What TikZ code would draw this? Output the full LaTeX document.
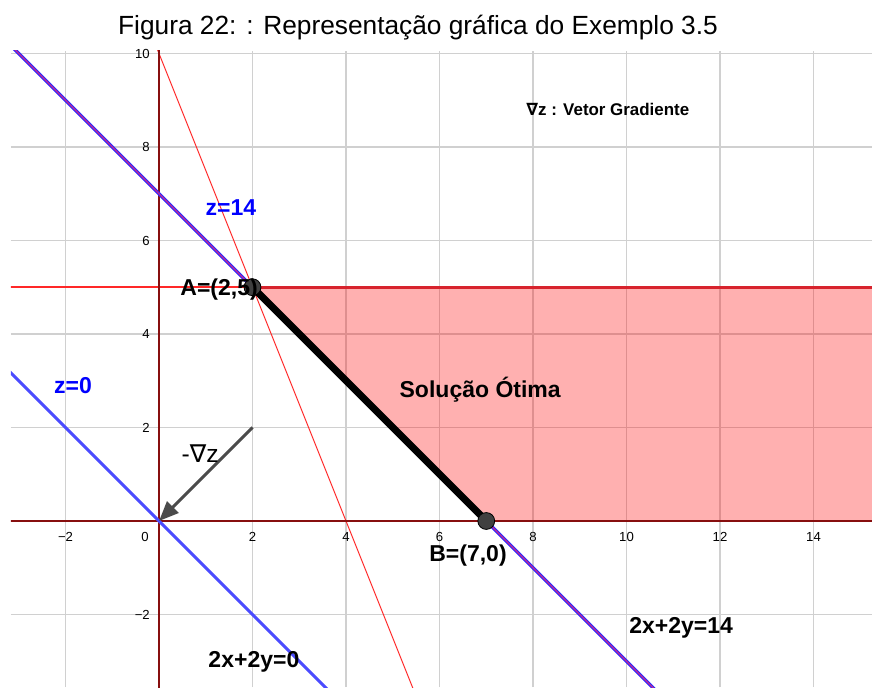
\documentclass[tikz,border=0pt]{standalone}
\usepackage{fontspec}
\setmainfont{Liberation Sans}
\newfontfamily\dejavu{DejaVu Sans}
\usetikzlibrary{arrows.meta}
\definecolor{gridgray}{RGB}{208,208,208}
\definecolor{axisred}{RGB}{135,15,15}
\definecolor{edgered}{RGB}{215,35,45}
\definecolor{zblue}{RGB}{75,75,255}
\definecolor{lineblue}{RGB}{40,40,255}
\definecolor{linepurple}{RGB}{190,40,150}
\definecolor{ptgray}{RGB}{64,64,64}
\definecolor{arrgray}{RGB}{75,75,75}
\definecolor{thinredc}{RGB}{255,40,40}
\begin{document}
\begin{tikzpicture}[
  lbl/.style={font=\fontsize{14}{16}\selectfont\bfseries, inner sep=0pt},
  tick/.style={font=\fontsize{8}{9}\selectfont, inner sep=0pt},
  pt/.style={circle, fill=ptgray, draw=black, line width=0.5pt, minimum size=0.36cm, inner sep=0pt},
  thinred/.style={draw=thinredc, line width=0.6pt},
]
\useasboundingbox (-3.401,-3.551) rectangle (15.251,11.144);
% named coordinates
\coordinate (O) at (0,0);
\coordinate (A) at (2,5);
\coordinate (B) at (7,0);
\coordinate (G) at (2,2);
\coordinate (R5) at (15.3,5);
\coordinate (R0) at (15.3,0);
\coordinate (L5) at (-3.3,5.005);
\coordinate (A5) at (2,5.005);
\coordinate (L0) at (-3.3,0);
\coordinate (YT) at (0,10.2);
\coordinate (YB) at (0,-3.7);
\coordinate (P1) at (-0.04,10.1);
\coordinate (P2) at (5.45,-3.625);
\coordinate (Z0a) at (-3.3,3.3);
\coordinate (Z0b) at (3.7,-3.7);
\coordinate (Z14a) at (-3.2,10.2);
\coordinate (Z14b) at (10.7,-3.7);
\begin{scope}
\clip (-3.17,-3.551) rectangle (15.251,10.06);
\draw[gridgray, line width=0.8pt] (-3.17,-3.551) grid[step=2] (15.251,10.06);
\fill[red, opacity=0.31] (A) -- (R5) -- (R0) -- (B) -- cycle;
\draw[draw=thinredc, line width=0.75pt] (L5) -- (A5);
\draw[thinred] (P1) -- (P2);
\draw[edgered, line width=1.8pt] (A) -- (R5);
\draw[axisred, line width=1.8pt] (L0) -- (R0);
\draw[axisred, line width=1.2pt] (YB) -- (YT);
\draw[zblue, line width=1.8pt] (Z0a) -- (Z0b);
\draw[lineblue, line width=2.1pt] (Z14a) -- (Z14b);
\draw[linepurple, line width=0.7pt] (Z14a) -- (Z14b);
\draw[black, line width=4.3pt] (A) -- (B);
\draw[arrgray, line width=1.8pt, -{Triangle[length=0.42cm,width=0.34cm]}] (G) -- (O);
\end{scope}
\node[pt] (pA) at (A) {};
\node[pt] (pB) at (B) {};
% tick labels
\foreach \x/\t in {-2/−2,2/2,4/4,6/6,8/8,10/10,12/12,14/14}
  \node[tick] (xt\x) at (\x,-0.342) {\t};
\node[tick] (xt0) at (-0.30,-0.342) {0};
\foreach \y/\t in {-2/−2,2/2,4/4,6/6,8/8,10/10}
  \node[tick, anchor=east] (yt\y) at (-0.19,\y) {\t};
% labels
\node[font=\fontsize{16}{18}\selectfont, inner sep=0pt] (title) at (5.54,10.56) {Figura 22: : Representação gráfica do Exemplo 3.5};
\node[font=\fontsize{10.3}{12}\selectfont\bfseries, inner sep=0pt] (grad) at (9.60,8.81) {{\dejavu ∇}z : Vetor Gradiente};
\node[lbl, text=blue] (z14) at (1.54,6.70) {z=14};
\node[lbl, text=blue] (z0) at (-1.84,2.89) {z=0};
\node[lbl, anchor=east] (labA) at (2.12,4.94) {A=(2,5)};
\node[lbl] (sol) at (6.87,2.80) {Solução Ótima};
\node[font=\fontsize{15}{17}\selectfont, inner sep=0pt] (ngrad) at (0.88,1.45) {-{\dejavu ∇}z};
\node[lbl] (labB) at (6.61,-0.73) {B=(7,0)};
\node[lbl] (e14) at (11.17,-2.29) {2x+2y=14};
\node[lbl] (e0) at (2.03,-3.02) {2x+2y=0};
\end{tikzpicture}
\end{document}
